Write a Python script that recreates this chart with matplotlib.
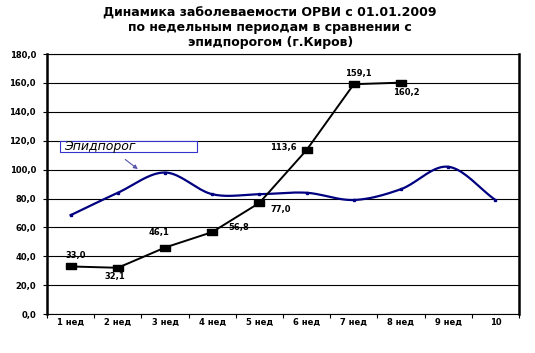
import numpy as np
import matplotlib.pyplot as plt
from matplotlib.patches import Rectangle

weeks = ["1 нед", "2 нед", "3 нед", "4 нед", "5 нед", "6 нед", "7 нед", "8 нед", "9 нед", "10"]
orvi = [33.0, 32.1, 46.1, 56.8, 77.0, 113.6, 159.1, 160.2]
epid = [68.5, 84.0, 98.0, 83.0, 83.0, 84.0, 79.0, 86.5, 102.0, 79.0]
yticks = [0, 20, 40, 60, 80, 100, 120, 140, 160, 180]


def smooth(x, y, n=20):
    # catmull-rom curve through the points, like excel's smoothed line
    x = np.asarray(x, float)
    y = np.asarray(y, float)
    px = np.concatenate([[2 * x[0] - x[1]], x, [2 * x[-1] - x[-2]]])
    py = np.concatenate([[2 * y[0] - y[1]], y, [2 * y[-1] - y[-2]]])
    xs, ys = [], []
    t = np.linspace(0, 1, n, endpoint=False)
    for i in range(1, len(px) - 2):
        for p, out in ((px, xs), (py, ys)):
            p0, p1, p2, p3 = p[i - 1], p[i], p[i + 1], p[i + 2]
            out.extend(0.5 * ((2 * p1) + (-p0 + p2) * t
                              + (2 * p0 - 5 * p1 + 4 * p2 - p3) * t ** 2
                              + (-p0 + 3 * p1 - 3 * p2 + p3) * t ** 3))
    xs.append(x[-1])
    ys.append(y[-1])
    return np.array(xs), np.array(ys)


fnt = "DejaVu Sans"
fig = plt.figure(figsize=(5.35, 3.53), dpi=100)
ax = fig.add_axes([0.088, 0.11, 0.882, 0.737])

x_all = np.arange(len(weeks))
sx, sy = smooth(x_all, epid)
ax.plot(sx, sy, color="#000080", lw=1.6, zorder=3)
ax.plot(x_all, epid, "s", color="#000080", ms=2, zorder=3)

box_marker = [(-1.4, -1), (1.4, -1), (1.4, 1), (-1.4, 1), (-1.4, -1)]
xo = np.arange(len(orvi))
ax.plot(xo, orvi, "-", color="black", lw=1.4, zorder=4)
ax.plot(xo, orvi, linestyle="none", marker=box_marker, color="black", ms=7, zorder=5)

offs = [(4, 8), (-2, -6), (-4, 11), (19, 3), (15, -5), (-17, 2), (3, 8), (4, -7)]
for i, v in enumerate(orvi):
    ax.annotate(("%.1f" % v).replace(".", ","), (i, v), xytext=offs[i],
                textcoords="offset points", ha="center", va="center",
                fontsize=6, fontweight="bold", family=fnt, zorder=6)

ax.set_xlim(-0.5, len(weeks) - 0.5)
ax.set_ylim(0, 180)
ax.set_yticks(yticks)
ax.set_yticklabels([("%.1f" % v).replace(".", ",") for v in yticks])
ax.grid(axis="y", color="black", lw=0.8)
ax.set_axisbelow(True)
ax.set_xticks(x_all)
ax.set_xticklabels(weeks)
ax.set_xticks(np.arange(-0.5, len(weeks)), minor=True)
ax.tick_params(axis="x", which="major", length=0, pad=3)
ax.tick_params(axis="x", which="minor", length=3, width=0.8)
ax.tick_params(axis="y", length=3, width=0.8, pad=5)
for lab in ax.get_xticklabels() + ax.get_yticklabels():
    lab.set_fontsize(6)
    lab.set_fontweight("bold")
    lab.set_family(fnt)
ax.spines["left"].set_linewidth(1.8)
ax.spines["right"].set_linewidth(1.8)
ax.spines["bottom"].set_linewidth(0.8)
ax.spines["top"].set_linewidth(0.8)

# label box for the threshold line, with arrow
ax.add_patch(Rectangle((-0.225, 112.3), 2.9, 7.6, fc="white", ec="#3333cc",
                       lw=0.8, zorder=6))
ax.text(-0.15, 115.8, "Эпидпорог", fontsize=9, style="italic", family=fnt,
        va="center", ha="left", zorder=7)
ax.annotate("", xy=(1.47, 99.2), xytext=(1.11, 108.2),
            arrowprops=dict(arrowstyle="-|>", color="#5555aa", lw=0.8,
                            mutation_scale=6))

fig.text(0.505, 0.862, "Динамика заболеваемости ОРВИ с 01.01.2009\n"
         "по недельным периодам в сравнении с\nэпидпорогом (г.Киров)",
         ha="center", va="bottom", fontsize=9, fontweight="bold", family=fnt,
         linespacing=1.15)

fig.savefig("out.png", dpi=100)
